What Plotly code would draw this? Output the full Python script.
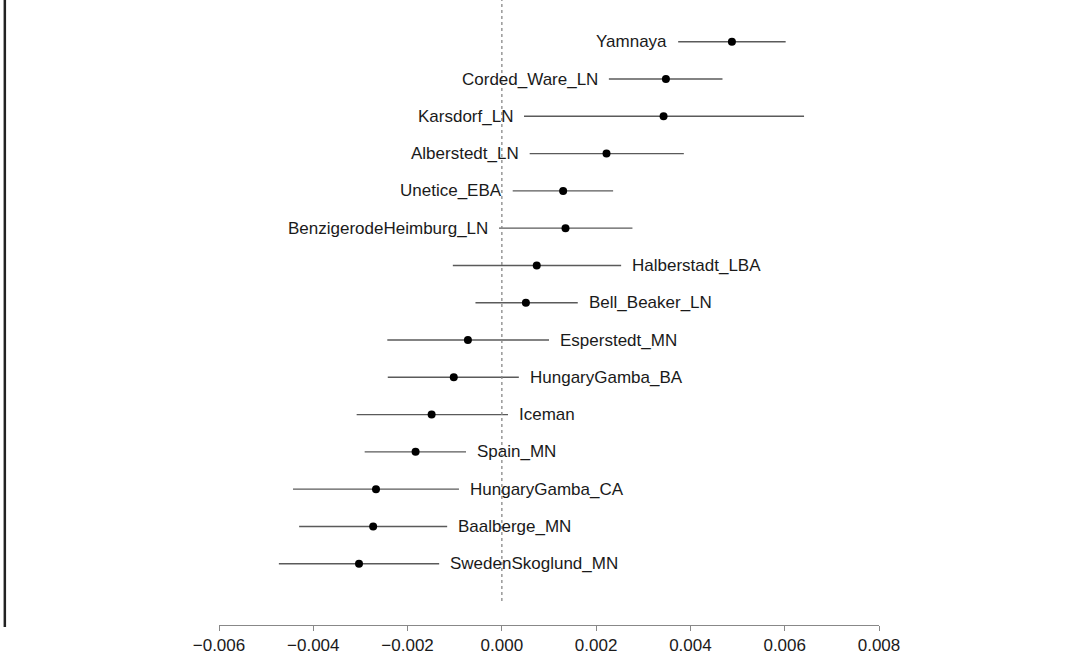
import plotly.graph_objects as go

# ---- data ----
populations = ["Yamnaya", "Corded_Ware_LN", "Karsdorf_LN", "Alberstedt_LN", "Unetice_EBA",
               "BenzigerodeHeimburg_LN", "Halberstadt_LBA", "Bell_Beaker_LN", "Esperstedt_MN",
               "HungaryGamba_BA", "Iceman", "Spain_MN", "HungaryGamba_CA", "Baalberge_MN",
               "SwedenSkoglund_MN"]
estimate = [0.00488, 0.00348, 0.00343, 0.00222, 0.00130, 0.00135, 0.00074, 0.00051, -0.00072,
            -0.00102, -0.00149, -0.00183, -0.00267, -0.00273, -0.00303]
lower = [0.00374, 0.00227, 0.00047, 0.00059, 0.00023, -0.00006, -0.00104, -0.00056, -0.00243,
         -0.00242, -0.00308, -0.00291, -0.00443, -0.00430, -0.00473]
upper = [0.00602, 0.00468, 0.00641, 0.00386, 0.00236, 0.00277, 0.00253, 0.00161, 0.00100,
         0.00036, 0.00013, -0.00076, -0.00091, -0.00116, -0.00133]
x_ticks = [-0.006, -0.004, -0.002, 0.000, 0.002, 0.004, 0.006, 0.008]

n = len(populations)
ypos = list(range(n, 0, -1))  # top row = n

FONT = "Liberation Sans, Arial, sans-serif"
LINE_GREY = "#5a5a5a"
TEXT = "#1a1a1a"

fig = go.Figure()
fig.add_trace(go.Scatter(
    x=estimate, y=ypos, mode="markers",
    marker=dict(color="black", size=8),
    error_x=dict(type="data", symmetric=False,
                 array=[u - e for u, e in zip(upper, estimate)],
                 arrayminus=[e - l for e, l in zip(estimate, lower)],
                 color=LINE_GREY, thickness=1.4, width=0),
    showlegend=False, hoverinfo="skip", cliponaxis=False,
))

# labels: left of the interval for strongly positive estimates, right otherwise
for name, e, lo, hi, y in zip(populations, estimate, lower, upper, ypos):
    if e > 0.001:
        fig.add_annotation(x=lo, y=y, text=name, showarrow=False, xanchor="right",
                           xshift=-9, yanchor="middle", font=dict(family=FONT, size=17, color=TEXT))
    else:
        fig.add_annotation(x=hi, y=y, text=name, showarrow=False, xanchor="left",
                           xshift=9, yanchor="middle", font=dict(family=FONT, size=17, color=TEXT))

# dotted reference line at zero
fig.add_shape(type="line", xref="x", yref="y", x0=0, x1=0, y0=0, y1=16.12,
              line=dict(color="#888888", width=1.3, dash="dot"))

# left frame line of the cropped figure
fig.add_shape(type="line", xref="paper", yref="paper", x0=-0.3245, x1=-0.3245, y0=-0.003, y1=1.0,
              line=dict(color="#222222", width=2.5))

fig.update_xaxes(range=[-0.006, 0.008], tickvals=x_ticks, tickformat=".3f",
                 showgrid=False, zeroline=False, showline=True, linecolor="#888888", linewidth=1,
                 ticks="outside", ticklen=5, tickcolor="#888888", tickwidth=1,
                 tickfont=dict(family=FONT, size=17, color=TEXT))
fig.update_yaxes(range=[-0.644, 16.12], showgrid=False, zeroline=False, showline=False,
                 showticklabels=False, ticks="")

fig.update_layout(width=1065, height=655, plot_bgcolor="white", paper_bgcolor="white",
                  margin=dict(l=219, r=186, t=0, b=26), font=dict(family=FONT))

fig.write_html("out.html", config={"displayModeBar": False},
               post_script="document.body.style.margin='0';document.body.style.overflow='hidden';")
